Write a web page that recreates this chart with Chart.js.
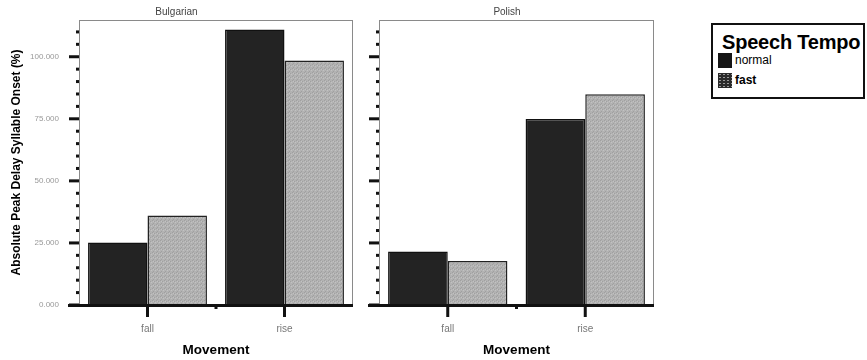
<!DOCTYPE html>
<html>
<head>
<meta charset="utf-8">
<script src="https://cdn.jsdelivr.net/npm/chart.js@4"></script>
<style>
  body { margin: 0; background: #fff; width: 867px; height: 360px; position: relative; overflow: hidden; font-family: "Liberation Sans", Arial, sans-serif; }
  canvas { position: absolute; top: 0; }
  #legend { position: absolute; left: 711px; top: 23px; width: 150px; height: 72px; border: 2px solid #111; }
  #legend .title { position: absolute; left: 9px; top: 6px; font-weight: bold; font-size: 20px; letter-spacing: -0.2px; color: #000; }
  #legend .item { position: absolute; left: 5px; font-size: 12px; color: #000; height: 15px; line-height: 15px; }
  #legend .sw { display: inline-block; width: 14px; height: 15px; vertical-align: top; margin-right: 3px; }
</style>
</head>
<body>
<canvas id="chartBulgarian" width="360" height="360" style="left:0px"></canvas>
<canvas id="chartPolish" width="320" height="360" style="left:360px"></canvas>
<div id="legend">
  <div class="title">Speech Tempo</div>
  <div class="item" style="top:28px"><span class="sw" style="background:#151515"></span>normal</div>
  <div class="item" style="top:48px;font-weight:bold"><span class="sw" style="background-color:#2a2a2a;background-image:radial-gradient(#999 0.7px, transparent 1px);background-size:4px 3px"></span>fast</div>
</div>
<script>
// Data
const movements = ["fall", "rise"];
const bulgarianNormal = [25.2, 111.0];
const bulgarianFast = [36.1, 98.5];
const polishNormal = [21.5, 74.9];
const polishFast = [17.7, 84.9];
const yTicks = [0, 25, 50, 75, 100];
const yMax = 114.8;

Chart.defaults.font.family = "'Liberation Sans', Arial, sans-serif";

// stippled grey fill for the "fast" bars
function makeStipple() {
    const c = document.createElement("canvas");
    c.width = 4;
    c.height = 4;
    const g = c.getContext("2d");
    g.fillStyle = "#b2b2b2";
    g.fillRect(0, 0, 4, 4);
    g.fillStyle = "#a0a0a0";
    g.fillRect(0, 0, 1, 1);
    g.fillRect(2, 1, 1, 1);
    g.fillRect(1, 3, 1, 1);
    g.fillStyle = "#c2c2c2";
    g.fillRect(3, 2, 1, 1);
    g.fillRect(1, 1, 1, 1);
    return g.createPattern(c, "repeat");
}
const stipple = makeStipple();

// frame, axis line, tick marks
const axisMarks = {
    id: "axisMarks",
    beforeDatasetsDraw(chart) {
        const { ctx, chartArea } = chart;
        ctx.save();
        ctx.strokeStyle = "#8a8a8a";
        ctx.lineWidth = 1;
        ctx.strokeRect(chartArea.left + 0.5, chartArea.top + 0.5, chartArea.right - chartArea.left - 1, chartArea.bottom - chartArea.top);
        ctx.restore();
    },
    afterDatasetsDraw(chart) {
        const { ctx, chartArea } = chart;
        const y = chart.scales.y;
        const x = chart.scales.x;
        ctx.save();
        ctx.fillStyle = "#111";
        for (let v = 0; v <= 110; v += 5) {
            const py = y.getPixelForValue(v);
            if (yTicks.includes(v)) {
                ctx.fillRect(chartArea.left - 10, py - 1.5, 10, 3);
            } else {
                ctx.fillRect(chartArea.left - 3, py - 1.5, 3, 3);
            }
        }
        ctx.fillRect(chartArea.left - 11, chartArea.bottom - 1, chartArea.right - chartArea.left + 11, 3);
        movements.forEach((m, i) => {
            const px = x.getPixelForValue(i);
            ctx.fillRect(px - 1.5, chartArea.bottom, 3, 12);
        });
        const mid = (x.getPixelForValue(0) + x.getPixelForValue(1)) / 2;
        ctx.fillRect(mid - 1.5, chartArea.bottom + 1, 3, 3);
        ctx.restore();
    }
};

function makeChart(id, title, normal, fast, showY, axisWidth, padRight) {
    const ctx = document.getElementById(id).getContext("2d");
    return new Chart(ctx, {
        type: "bar",
        data: {
            labels: movements,
            datasets: [
                { label: "normal", data: normal, backgroundColor: "#232323", borderColor: "#111", borderWidth: 1.5, borderSkipped: "bottom" },
                { label: "fast", data: fast, backgroundColor: stipple, borderColor: "#222", borderWidth: 1.5, borderSkipped: "bottom" }
            ]
        },
        options: {
            responsive: false,
            animation: false,
            devicePixelRatio: 1,
            layout: { padding: { left: 0, right: padRight, top: 0, bottom: 0 } },
            datasets: { bar: { categoryPercentage: 0.868, barPercentage: 1 } },
            plugins: {
                legend: { display: false },
                tooltip: { enabled: false },
                title: { display: true, text: title, color: "#444", font: { size: 10, weight: "normal" }, padding: { top: 6, bottom: 2 } }
            },
            scales: {
                x: {
                    grid: { display: false },
                    border: { display: false },
                    ticks: { color: "#777", font: { size: 10 }, padding: 10 },
                    title: { display: true, text: "Movement", color: "#000", font: { size: 13.5, weight: "bold" }, padding: 2 },
                    afterFit(scale) { scale.height = 55; }
                },
                y: {
                    min: 0,
                    max: yMax,
                    grid: { display: false },
                    border: { display: false },
                    ticks: {
                        display: showY,
                        stepSize: 25,
                        color: "#999",
                        font: { size: 8 },
                        padding: 12,
                        callback: (v) => (yTicks.includes(v) ? v.toFixed(3) : "")
                    },
                    title: { display: showY, text: "Absolute Peak Delay Syllable Onset (%)", color: "#000", font: { size: 12, weight: "bold" }, padding: 9 },
                    afterFit(scale) { scale.width = axisWidth; }
                }
            }
        },
        plugins: [axisMarks]
    });
}

makeChart("chartBulgarian", "Bulgarian", bulgarianNormal, bulgarianFast, true, 79, 7);
makeChart("chartPolish", "Polish", polishNormal, polishFast, false, 19, 26);
</script>
</body>
</html>
